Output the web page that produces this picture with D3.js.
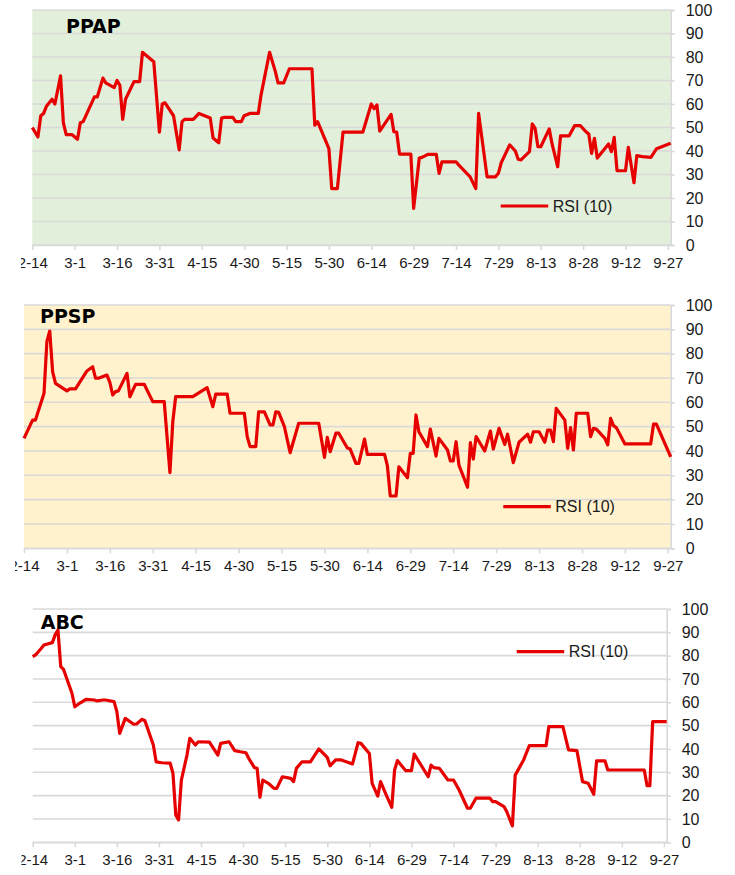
<!DOCTYPE html>
<html>
<head>
<meta charset="utf-8">
<script src="https://cdn.jsdelivr.net/npm/d3@7"></script>
<style>
  html, body { margin: 0; padding: 0; background: #ffffff; }
  svg { display: block; }
</style>
</head>
<body>
<svg id="chart" width="735" height="875"></svg>
<script>
// ---------- DATA ----------
// x tick labels (every 15 days starting 2-14)
const tickLabels = ["2-14","3-1","3-16","3-31","4-15","4-30","5-15","5-30","6-14","6-29","7-14","7-29","8-13","8-28","9-12","9-27"];
const yTicks = [0,10,20,30,40,50,60,70,80,90,100];
const seriesName = "RSI (10)";

// day offsets from 2-14 and RSI values
const ppapDay = [0,2,3,4,5,7,8,10,11,12,14,16,17,18,22,23,25,26,29,30,31,32,33,36,38,39,43,45,46,47,50,52,53,54,57,59,63,64,66,67,68,71,72,74,75,77,80,81,84,86,87,89,91,99,100,101,105,106,108,110,117,120,121,122,123,127,128,129,130,134,135,137,138,140,143,144,145,150,151,155,157,158,161,164,165,166,169,171,172,173,176,177,178,179,180,183,184,186,187,190,192,194,196,197,198,199,200,204,205,206,207,210,211,213,214,216,219,221,226];
const ppapRSI = [50,46,55,56,59,62,60,72,52,47,47,45,52,52.5,63,63,71,69,67,70,68,53.5,62,69.5,69.5,82,78,48,60,60.5,55,40.5,52.5,53.5,53.5,56,54,45.5,43.5,54,54.3,54.3,52.5,52.5,55,56,56,64,82,74,69,69,75,75,51,52.5,41,24,24,48,48,60,58,59.6,48.5,55.6,48.2,48,38.7,38.7,15.6,37,37.3,38.6,38.6,30.5,35.4,35.4,34,29,24,56,29,29,30.5,35,42.6,40,36.5,36.2,39.7,51.5,49.6,41.8,41.8,49.4,43,33.3,46.4,46.4,50.8,50.8,48.2,47.2,39,45.4,37,43,39.7,45.8,31.6,31.6,41.6,26.5,38,37.6,37.3,41,43.3];

const ppspDay = [0,3,4,7,8,9,10,11,15,16,18,22,24,25,26,29,30,31,32,33,36,37,39,42,45,49,51,52,53,59,64,66,67,71,72,77,78,79,81,82,84,86,87,88,89,91,93,96,103,105,106,107,109,110,113,114,116,117,119,120,126,127,128,130,131,134,135,136,137,138,141,142,144,145,148,149,150,151,152,155,156,157,158,161,163,164,166,168,169,171,173,176,177,178,180,182,183,184,185,186,189,190,191,192,193,197,198,199,200,203,204,205,206,207,210,219,220,221,226];
const ppspRSI = [45.2,52.7,52.7,63.7,85,89.3,72.6,67.8,64.7,65.5,65.5,72.9,74.6,69.9,69.9,71.2,68.2,63,64.4,64.7,71.9,62.3,67.4,67.4,60.3,60.3,31.1,52,62.3,62.3,66,58.2,63.4,63.4,55.5,55.5,45.9,41.8,41.8,56.1,56.1,50.7,50.7,56.1,55.9,50,39.3,51.4,51.4,37.4,45.6,39.7,47.3,47.3,41.2,40.8,34.9,34.9,44.9,38.6,38.6,33.9,21.5,21.5,33.5,29,39,39,54.8,47.9,41.8,49,37.9,45.2,40.4,35.9,35.9,43.8,34.2,25.1,43.4,36.7,45.9,40,48.2,40.8,49.3,42.7,46.9,35.2,43.6,46.9,43.6,47.9,47.9,43.6,48.6,48.6,43.8,57.5,52.7,41.1,49.6,40.4,55.5,55.5,45.9,49.3,49,45.2,42.5,53.4,50.4,49.6,42.9,42.9,51,51,37.6];

const abcDay = [0,1,3,4,7,8,9,10,11,14,15,17,19,22,23,25,26,29,30,31,33,36,37,39,40,43,44,46,49,50,51,52,53,55,56,58,59,63,66,67,70,72,74,76,77,79,80,81,82,84,86,87,89,92,93,94,96,99,102,105,106,108,110,114,116,117,120,121,123,124,126,128,129,130,133,135,136,141,142,143,145,148,150,152,155,156,158,163,164,165,168,169,171,172,175,177,183,184,189,191,194,196,198,200,201,204,205,218,219,220,221,226];
const abcRSI = [79.6,80.3,83.1,84.6,85.6,88.9,91,75.3,74.1,63.9,58.1,59.8,61.3,61,60.6,61,61,60.3,56,46.7,53.1,50.6,50.7,52.7,52.1,41.7,34.5,34.1,33.9,29.6,11.7,9.6,26.7,37.4,44.6,41.7,43.1,42.9,37.4,42.4,43.1,39.3,38.8,38.4,36,32.1,31.7,19.3,26.7,25.3,23.1,23.1,28.1,27.4,26,31.7,34.5,34.5,40,36.4,32.8,35.3,35.3,33.6,42.7,42.4,38.1,25.3,19.8,26,20.3,15,31,35,30.7,30.7,37.8,28.1,33.1,32,31.7,26.7,26.7,22.4,14.6,14.6,18.9,18.9,17.4,17.4,15.3,13.1,7,28.8,35.3,41.4,41.4,49.6,49.6,39.6,39.3,26,25.3,20.6,34.9,34.9,31,31,24.3,24.3,51.7,51.7];

// ---------- LAYOUT ----------
const panels = [
  { title: "PPAP", day: ppapDay, val: ppapRSI, left: 32.3, right: 670.7, top: 10, bottom: 245, bg: "#E2EFDA",
    titleX: 66, titleY: 33, legX: 500.7, legY: 206, labelClip: 21 },
  { title: "PPSP", day: ppspDay, val: ppspRSI, left: 24, right: 670.7, top: 305, bottom: 548.3, bg: "#FFF2CC",
    titleX: 40, titleY: 323, legX: 503.3, legY: 506.7, labelClip: 15 },
  { title: "ABC", day: abcDay, val: abcRSI, left: 32.7, right: 666.7, top: 609, bottom: 842.3, bg: "#FFFFFF",
    titleX: 40.7, titleY: 629, legX: 516.7, legY: 651.7, labelClip: 21.5 }
];

const svg = d3.select("#chart");
const defs = svg.append("defs");
const gridColor = "#d9d9d9";
const lineColor = "#e60000";
const labelFont = "'Liberation Sans', Arial, sans-serif";

panels.forEach((p, i) => {
  const x = d3.scaleLinear().domain([0, 226]).range([p.left, p.right]);
  const y = d3.scaleLinear().domain([0, 100]).range([p.bottom, p.top]);
  const g = svg.append("g");

  // background
  g.append("rect")
    .attr("x", p.left).attr("y", p.top)
    .attr("width", p.right - p.left).attr("height", p.bottom - p.top)
    .attr("fill", p.bg);

  // horizontal gridlines
  g.selectAll("line.grid").data(yTicks).enter().append("line")
    .attr("x1", p.left).attr("x2", p.right)
    .attr("y1", d => y(d)).attr("y2", d => y(d))
    .attr("stroke", gridColor).attr("stroke-width", 1.6);

  // right value axis
  const yAxis = d3.axisRight(y).tickValues(yTicks).tickSize(4).tickPadding(11).tickFormat(d3.format("d"));
  const ya = g.append("g").attr("transform", `translate(${p.right},0)`).call(yAxis);
  ya.select(".domain").attr("stroke", gridColor).attr("stroke-width", 1.6);
  ya.selectAll(".tick line").attr("stroke", gridColor).attr("stroke-width", 1.6);
  ya.selectAll(".tick text")
    .attr("font-family", labelFont).attr("font-size", 16).attr("fill", "#1a1a1a");

  // bottom date axis
  const tickDays = tickLabels.map((_, k) => k * 15);
  const xAxis = d3.axisBottom(x).tickValues(tickDays).tickSize(5).tickPadding(7)
    .tickFormat((d, k) => tickLabels[k]);
  const xa = g.append("g").attr("transform", `translate(0,${p.bottom})`).call(xAxis);
  xa.select(".domain").attr("stroke", gridColor).attr("stroke-width", 1.6).attr("d", `M${p.left},0.5H${p.right}`);
  xa.selectAll(".tick line").attr("stroke", gridColor).attr("stroke-width", 1.6);
  xa.selectAll(".tick text")
    .attr("font-family", labelFont).attr("font-size", 15).attr("fill", "#1a1a1a");

  // first label is cut at the left edge (clip in the axis group's own coordinates)
  defs.append("clipPath").attr("id", "lc" + i).append("rect")
    .attr("x", p.labelClip).attr("y", -5).attr("width", 800).attr("height", 45);
  xa.attr("clip-path", `url(#lc${i})`);

  // data line
  const pts = p.day.map((d, k) => [d, p.val[k]]);
  const line = d3.line().x(d => x(d[0])).y(d => y(d[1]));
  g.append("path").datum(pts)
    .attr("d", line)
    .attr("fill", "none").attr("stroke", lineColor)
    .attr("stroke-width", 3.2).attr("stroke-linejoin", "round");

  // title
  g.append("text").attr("x", p.titleX).attr("y", p.titleY)
    .attr("font-family", "'DejaVu Sans', Verdana, sans-serif").attr("font-weight", "bold")
    .attr("font-size", 19).attr("fill", "#000").text(p.title);

  // legend
  g.append("line").attr("x1", p.legX).attr("x2", p.legX + 47.5)
    .attr("y1", p.legY).attr("y2", p.legY)
    .attr("stroke", lineColor).attr("stroke-width", 3.2);
  g.append("text").attr("x", p.legX + 52).attr("y", p.legY).attr("dy", "0.36em")
    .attr("font-family", labelFont).attr("font-size", 16).attr("fill", "#1a1a1a")
    .text(seriesName);
});
</script>
</body>
</html>
